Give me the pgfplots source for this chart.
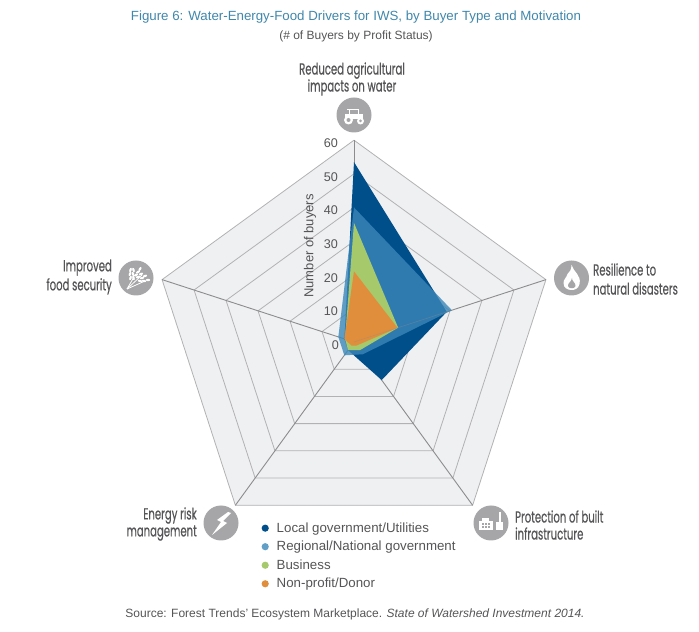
\documentclass[border=0pt]{standalone}
\usepackage{fontspec}
\setmainfont{Liberation Sans}
\newfontfamily\cond[FakeStretch=0.63,FakeBold=0.5]{Poppins}
\usepackage{pgfplots}
\usepgfplotslibrary{polar}
\pgfplotsset{compat=1.18}
\definecolor{navy}{RGB}{0,79,139}
\definecolor{regional}{RGB}{59,135,185}
\definecolor{biz}{RGB}{165,201,107}
\definecolor{nonprofit}{RGB}{224,142,60}
\definecolor{panel}{RGB}{239,240,242}
\definecolor{ring}{RGB}{178,178,180}
\definecolor{spoke}{RGB}{140,140,142}
\definecolor{icon}{RGB}{166,166,168}
\definecolor{txt}{RGB}{85,85,87}
\definecolor{ttl}{RGB}{63,135,171}
\begin{document}
\begin{tikzpicture}
\path (0,0) rectangle (699pt,632pt);
\begin{polaraxis}[
  at={(354pt,290pt)}, anchor=center,
  scale only axis, width=403.6pt, height=403.6pt,
  xmin=0, xmax=360, ymin=0, ymax=60,
  hide axis, clip=false,
  legend cell align=left,
  legend image code/.code={\fill[#1] (0pt,0pt) circle (3.6pt); \path (9.5pt,0pt);},
  legend style={at={(axis description cs:0.2706,0.058)}, anchor=north west, draw=none, fill=none,
    font=\fontsize{13.3}{15}\selectfont\color{txt}, row sep=3.4pt, inner sep=0pt},
]
% grid
\addplot[forget plot, fill=panel, draw=ring, line width=0.8pt] coordinates {(90,60)(18,60)(-54,60)(-126,60)(162,60)(90,60)};
\addplot[forget plot, draw=ring, line width=0.8pt] coordinates {(90,50)(18,50)(-54,50)(-126,50)(162,50)(90,50)};
\addplot[forget plot, draw=ring, line width=0.8pt] coordinates {(90,40)(18,40)(-54,40)(-126,40)(162,40)(90,40)};
\addplot[forget plot, draw=ring, line width=0.8pt] coordinates {(90,30)(18,30)(-54,30)(-126,30)(162,30)(90,30)};
\addplot[forget plot, draw=ring, line width=0.8pt] coordinates {(90,20)(18,20)(-54,20)(-126,20)(162,20)(90,20)};
\addplot[forget plot, draw=ring, line width=0.8pt] coordinates {(90,10)(18,10)(-54,10)(-126,10)(162,10)(90,10)};
\addplot[forget plot, draw=spoke, line width=0.9pt] coordinates {(90,0)(90,60)};
\addplot[forget plot, draw=spoke, line width=0.9pt] coordinates {(18,0)(18,60)};
\addplot[forget plot, draw=spoke, line width=0.9pt] coordinates {(-54,0)(-54,60)};
\addplot[forget plot, draw=spoke, line width=0.9pt] coordinates {(-126,0)(-126,60)};
\addplot[forget plot, draw=spoke, line width=0.9pt] coordinates {(162,0)(162,60)};
% series
\addplot[fill=navy, draw=none] coordinates {(90,53.5)(18,29)(-54,14)(-126,3)(162,3)(90,53.5)};
\addlegendentry{Local government/Utilities}
\addplot[fill=regional, draw=none, fill opacity=0.8] coordinates {(90,40)(18,30.6)(-54,4.5)(-126,4.9)(162,4.9)(90,40)};
\addlegendentry{Regional/National government}
\addplot[fill=biz, draw=none] coordinates {(90,35.4)(18,13.8)(-54,3)(-126,3)(162,2.8)(90,35.4)};
\addlegendentry{Business}
\addplot[fill=nonprofit, draw=none] coordinates {(90,21)(18,13.6)(-54,1.3)(-126,1.3)(162,3)(90,21)};
\addlegendentry{Non-profit/Donor}
\addplot[forget plot, draw=spoke, draw opacity=0.4, line width=0.6pt] coordinates {(18,0)(18,30)};
\end{polaraxis}
\begin{scope}[x=1pt,y=-1pt,shift={(0pt,632pt)},every node/.style={inner sep=0pt,text=txt}]
% titles
\node[text=ttl,font=\fontsize{13.3}{15}\selectfont] at (356,17) {Figure 6: Water-Energy-Food Drivers for IWS, by Buyer Type and Motivation};
\node[font=\fontsize{12}{14}\selectfont] at (356,36) {(\# of Buyers by Profit Status)};
\node[font=\fontsize{12}{14}\selectfont] at (355,614) {Source: Forest Trends' Ecosystem Marketplace. \textit{State of Watershed Investment 2014.}};
% radial labels
\foreach \v/\yy in {60/143,50/177,40/210.5,30/244,20/278,10/311.5}{
  \node[anchor=east,font=\fontsize{12.6}{14}\selectfont] at (338,\yy) {\v};}
\node[anchor=east,font=\fontsize{12.6}{14}\selectfont] at (339,345) {0};
\node[rotate=90,font=\fontsize{13}{14}\selectfont] at (310,246) {Number of buyers};
% category labels
\node[font=\cond\fontsize{16}{17}\selectfont,align=center] at (352,79) {Reduced agricultural\\impacts on water};
\node[font=\cond\fontsize{16}{19}\selectfont,align=right,anchor=east] at (112,277) {Improved\\food security};
\node[font=\cond\fontsize{16}{19}\selectfont,align=left,anchor=west] at (593,279) {Resilience to\\natural disasters};
\node[font=\cond\fontsize{16}{17}\selectfont,align=right,anchor=east] at (197,524) {Energy risk\\management};
\node[font=\cond\fontsize{16}{17}\selectfont,align=left,anchor=west] at (515,525) {Protection of built\\infrastructure};
% icons
\fill[icon] (354,115) circle (17.5);
\fill[icon] (136,278) circle (17.5);
\fill[icon] (571.5,278) circle (17.5);
\fill[icon] (221,523) circle (17.5);
\fill[icon] (491,523) circle (17.5);
% tractor
\begin{scope}[shift={(354,115)}]
\fill[white] (-7,-6) rectangle (5,-4.5);
\fill[white] (-5.5,-5) rectangle (-4,2);
\fill[white] (4,-5) rectangle (5,2);
\fill[white] (-9,-1) rectangle (9,4);
\fill[white] (-5.5,5) circle (4.5);
\fill[icon] (-5.5,5) circle (2);
\fill[white] (6.5,6) circle (3.5);
\fill[icon] (6.5,6) circle (1.5);
\end{scope}
% wheat
\begin{scope}[shift={(136,278)}]
\draw[white,line width=0.8] (-9,11) -- (-2,-1);
\draw[white,line width=0.8] (-9,11) -- (6,-3);
\draw[white,line width=0.8] (-9,11) -- (9,3);
\foreach \x/\y/\r in {-5.5/-8/70,-2.5/-8/110,-6/-4/70,-3/-4/110,-5.5/0/70,-2.5/0/110,
  2/-6/30,4/-9/60,5/-4/20,0/-3/30,2/-1/20,
  6/0/10,9/-2/20,4/3/-10,8/3/-10,12/2/0}{
 \fill[white,rotate around={\r:(\x,\y)}] (\x,\y) ellipse (2.2 and 1.2);}
\end{scope}
% flame
\begin{scope}[shift={(571.5,278)}]
\fill[white] (0,-13) .. controls (2,-6) and (10,-3) .. (8,6) .. controls (7,11) and (3,12) .. (0,12)
  .. controls (-4,12) and (-8,10) .. (-8,5) .. controls (-8,1) and (-5,0) .. (-4,-4) .. controls (-2,-6) and (0,-8) .. (0,-13) -- cycle;
\fill[icon] (0.5,0) .. controls (0,3) and (4.5,5) .. (4,8) .. controls (3.5,11) and (-3,11) .. (-3.5,8) .. controls (-4,5) and (0,4) .. (0.5,0) -- cycle;
\end{scope}
% bolt
\begin{scope}[shift={(221,523)}]
\fill[white] (7,-11) -- (-4,-3) -- (0,-1) -- (-9,12) -- (6,0) -- (2,-2) -- (10,-10) -- cycle;
\end{scope}
% factory
\begin{scope}[shift={(491,523)}]
\fill[white] (-12,-2) rectangle (2,7);
\fill[white] (-9,-5) rectangle (-2,-1);
\fill[white] (5,-1) rectangle (12,7);
\fill[white] (7.5,-11) rectangle (9.5,0);
\foreach \x in {-9,-6,-3}{\fill[icon] (\x,0.5) rectangle +(1.8,1.8); \fill[icon] (\x,3.5) rectangle +(1.8,1.8);}
\end{scope}
\end{scope}
\end{tikzpicture}
\end{document}
